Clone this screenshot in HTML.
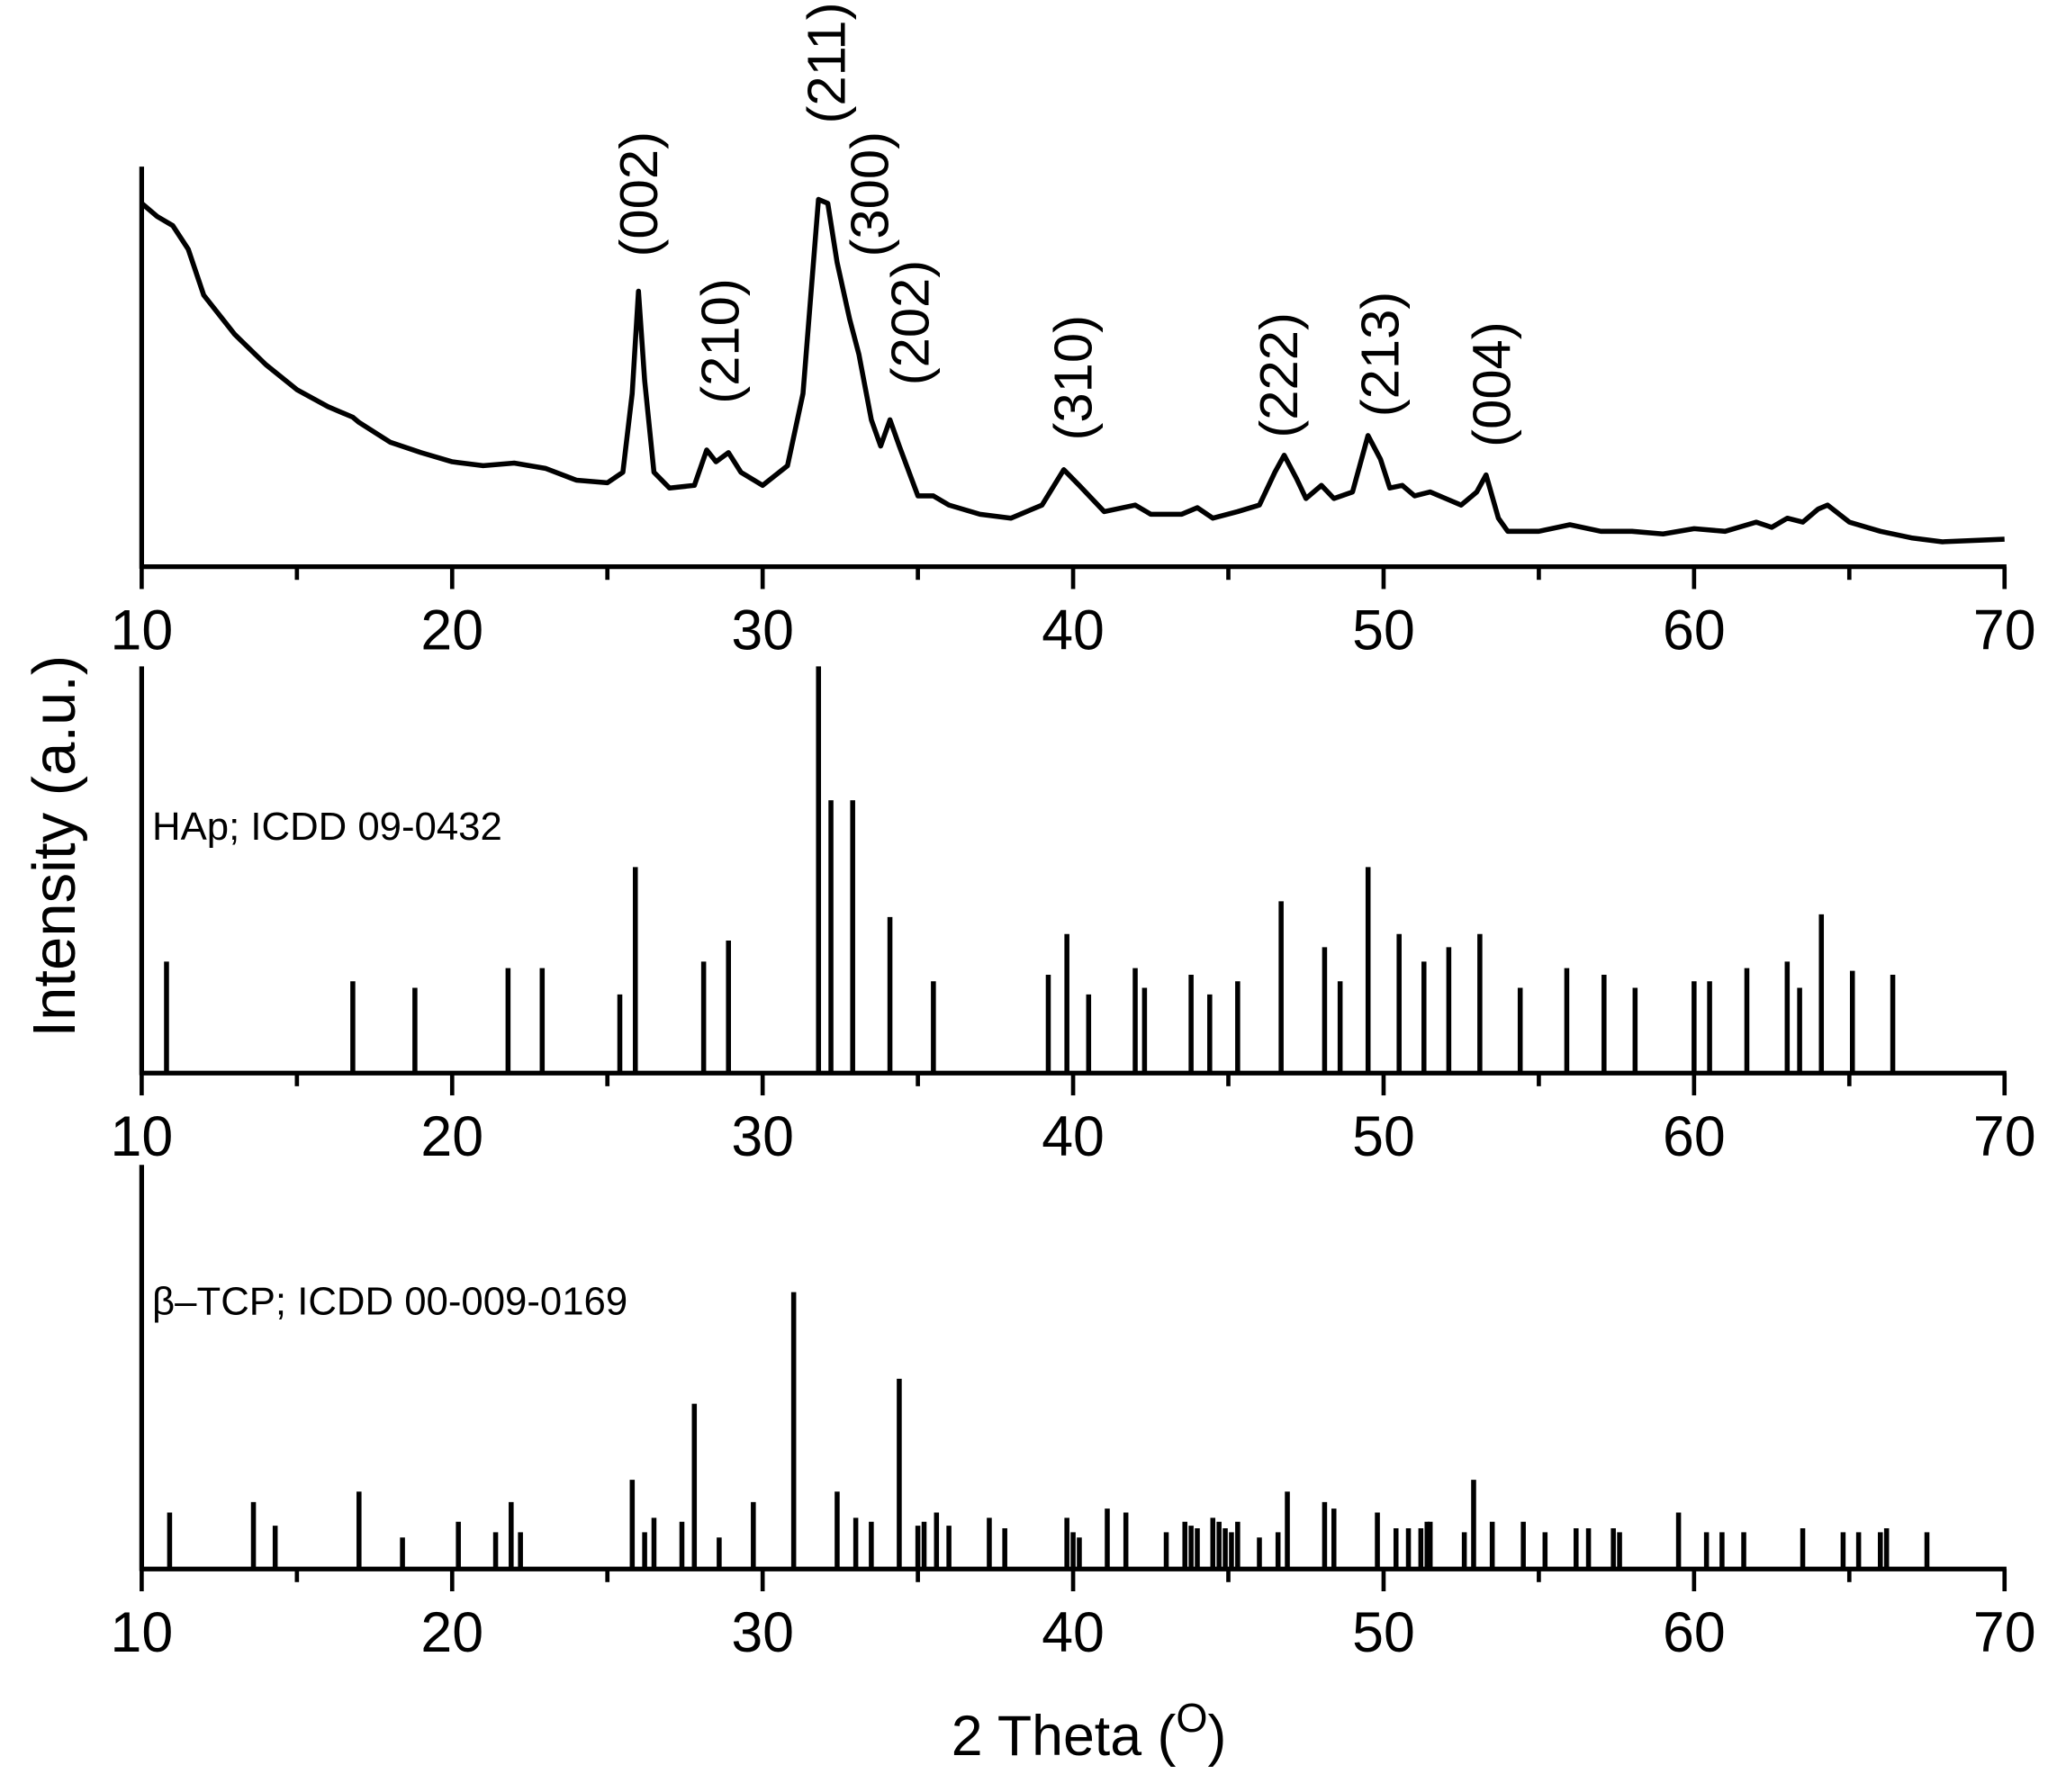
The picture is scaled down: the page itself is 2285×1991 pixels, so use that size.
<!DOCTYPE html>
<html><head><meta charset="utf-8"><style>html,body{margin:0;padding:0;background:#fff}svg{display:block}</style></head>
<body>
<svg id="s" width="2285" height="1991" viewBox="0 0 1568 1366" preserveAspectRatio="none" xmlns="http://www.w3.org/2000/svg" font-family="Liberation Sans, Arial, sans-serif">
<rect width="1568" height="1366" fill="#fff"/>
<g id="g"></g>
<text x="116" y="640" font-size="30">HAp; ICDD 09-0432</text>
<text x="116" y="1002" font-size="30">β–TCP; ICDD 00-009-0169</text>
<text x="830" y="1338" font-size="43" text-anchor="middle">2 Theta (<tspan font-size="31" dy="-18">O</tspan><tspan dy="18">)</tspan></text>
<text transform="translate(57,645) rotate(-90)" font-size="46" text-anchor="middle">Intensity (a.u.)</text>
</svg>
<script>
const g=document.getElementById('g');const NS='http://www.w3.org/2000/svg';
function X(d){return 108+(d-10)*23.667;}
function el(t,a,txt){const e=document.createElementNS(NS,t);for(const k in a)e.setAttribute(k,a[k]);if(txt)e.textContent=txt;g.appendChild(e);return e;}
function axis(top,base){
 el('line',{x1:108,y1:top,x2:108,y2:base+1.5,stroke:'#000','stroke-width':3.6});
 el('line',{x1:106.5,y1:base,x2:1529.5,y2:base,stroke:'#000','stroke-width':3.6});
 for(let d=10;d<=70;d+=5){const maj=d%10==0;el('line',{x1:X(d),y1:base,x2:X(d),y2:base+(maj?17:10),stroke:'#000','stroke-width':3.2});
 if(maj)el('text',{x:X(d),y:base+63,'font-size':43,'text-anchor':'middle'},String(d));}
}
axis(127,432);axis(508,818);axis(888,1196);
const c=[[10,155],[10.5,165],[11,172],[11.5,190],[12,225],[13,255],[14,278],[15,297],[16,310],[16.8,318],[17,322],[18,337],[19,345],[20,352],[21,355],[22,353],[23,357],[24,366],[25,368],[25.5,360],[25.8,300],[26,222],[26.2,290],[26.5,360],[27,372],[27.8,370],[28.2,343],[28.5,352],[28.9,345],[29.3,360],[30,370],[30.8,355],[31.3,300],[31.8,152],[32.1,155],[32.4,200],[32.8,243],[33.1,270],[33.5,320],[33.8,340],[34.1,320],[34.4,340],[35,378],[35.5,378],[36,385],[37,392],[38,395],[39,385],[39.7,358],[40.2,370],[41,390],[42,385],[42.5,392],[43.5,392],[44,387],[44.5,395],[45.3,390],[46,385],[46.5,360],[46.8,347],[47.2,365],[47.5,380],[48,370],[48.4,380],[49,375],[49.5,332],[49.9,350],[50.2,372],[50.6,370],[51,378],[51.5,375],[52,380],[52.5,385],[53,375],[53.3,362],[53.7,395],[54,405],[55,405],[56,400],[57,405],[58,405],[59,407],[60,403],[61,405],[62,398],[62.5,402],[63,395],[63.5,398],[64,388],[64.3,385],[65,398],[66,405],[67,410],[68,413],[70,411]];
el('polyline',{points:c.map(p=>X(p[0]).toFixed(1)+','+p[1]).join(' '),fill:'none',stroke:'#000','stroke-width':3.8,'stroke-linejoin':'round'});
const h=[[10.8,733],[16.8,748],[18.8,753],[21.8,738],[22.9,738],[25.4,758],[25.9,661],[28.1,733],[28.9,717],[31.8,508],[32.2,610],[32.9,610],[34.1,699],[35.5,748],[39.2,743],[39.8,712],[40.5,758],[42.0,738],[42.3,753],[43.8,743],[44.4,758],[45.3,748],[46.7,687],[48.1,722],[48.6,748],[49.5,661],[50.5,712],[51.3,733],[52.1,722],[53.1,712],[54.4,753],[55.9,738],[57.1,743],[58.1,753],[60.0,748],[60.5,748],[61.7,738],[63.0,733],[63.4,753],[64.1,697],[65.1,740],[66.4,743]];
h.forEach(p=>el('line',{x1:X(p[0]),y1:p[1],x2:X(p[0]),y2:818,stroke:'#000','stroke-width':3.8}));
const t=[[10.9,1153],[13.6,1145],[14.3,1163],[17.0,1137],[18.4,1172],[20.2,1160],[21.4,1168],[21.9,1145],[22.2,1168],[25.8,1128],[26.2,1168],[26.5,1157],[27.4,1160],[27.8,1070],[28.6,1172],[29.7,1145],[31.0,985],[32.4,1137],[33.0,1157],[33.5,1160],[34.4,1051],[35.0,1163],[35.2,1160],[35.6,1153],[36.0,1163],[37.3,1157],[37.8,1165],[39.8,1157],[40.0,1168],[40.2,1172],[41.1,1150],[41.7,1153],[43.0,1168],[43.6,1160],[43.8,1163],[44.0,1165],[44.5,1157],[44.7,1160],[44.9,1165],[45.1,1168],[45.3,1160],[46.0,1172],[46.6,1168],[46.9,1137],[48.1,1145],[48.4,1150],[49.8,1153],[50.4,1165],[50.8,1165],[51.2,1165],[51.4,1160],[51.5,1160],[52.6,1168],[52.9,1128],[53.5,1160],[54.5,1160],[55.2,1168],[56.2,1165],[56.6,1165],[57.4,1165],[57.6,1168],[59.5,1153],[60.4,1168],[60.9,1168],[61.6,1168],[63.5,1165],[64.8,1168],[65.3,1168],[66.0,1168],[66.2,1165],[67.5,1168]];
t.forEach(p=>el('line',{x1:X(p[0]),y1:p[1],x2:X(p[0]),y2:1196,stroke:'#000','stroke-width':3.8}));
const L=[['(002)',487,148],['(210)',549,260],['(211)',630,48],['(300)',663,148],['(202)',694,246],['(310)',818,288],['(222)',975,286],['(213)',1052,270],['(004)',1137,293]];
L.forEach(l=>el('text',{transform:`translate(${l[1]+14},${l[2]}) rotate(-90)`,'font-size':41,'text-anchor':'middle'},l[0]));
</script>
</body></html>
